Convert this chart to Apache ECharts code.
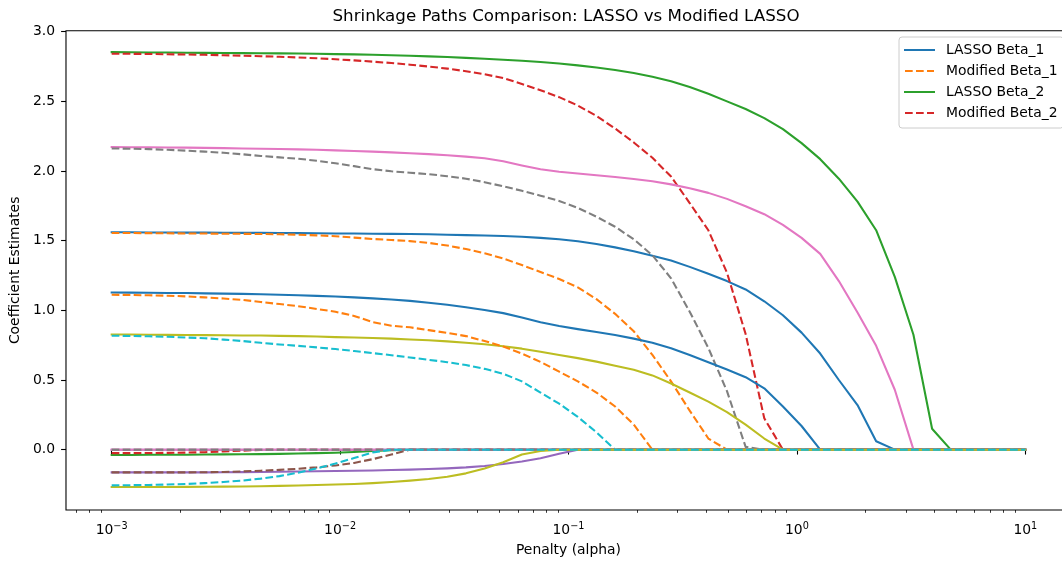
<!DOCTYPE html>
<html><head><meta charset="utf-8">
<script src="https://cdn.jsdelivr.net/npm/echarts@6/dist/echarts.min.js"></script>
<style>html,body{margin:0;padding:0;background:#fff;overflow:hidden;width:1062px;height:562px}#c{width:1071px;height:562px}</style>
</head><body><div id="c"></div>
<script>
// Penalty grid (alpha values)
const alphas = [0.001,0.0012068,0.0014563,0.0017575,0.002121,0.0025595,0.0030888,0.0037276,0.0044984,0.0054287,
  0.0065513,0.007906,0.009541,0.011514,0.013895,0.016768,0.020236,0.024421,0.029471,0.035565,
  0.042919,0.051795,0.062506,0.075431,0.09103,0.10985,0.13257,0.15999,0.19307,0.233,
  0.28118,0.33932,0.40949,0.49417,0.59636,0.71969,0.86851,1.0481,1.2649,1.5264,
  1.8421,2.223,2.6827,3.2375,3.9069,4.7149,5.6899,6.8665,8.2864,10.0];

const xMajorTicks = [0.001,0.01,0.1,1,10];
const xMinorTicks = [0.0007,0.0008,0.0009,
  0.002,0.003,0.004,0.005,0.006,0.007,0.008,0.009,
  0.02,0.03,0.04,0.05,0.06,0.07,0.08,0.09,
  0.2,0.3,0.4,0.5,0.6,0.7,0.8,0.9,
  2,3,4,5,6,7,8,9];
const yTicks = [0,0.5,1,1.5,2,2.5,3];

const lassoB1 = [1.560,1.560,1.559,1.559,1.558,1.558,1.557,1.556,1.556,1.555,
  1.554,1.553,1.552,1.551,1.550,1.549,1.548,1.546,1.543,1.540,
  1.537,1.533,1.528,1.520,1.510,1.496,1.476,1.452,1.424,1.392,
  1.357,1.312,1.262,1.210,1.150,1.065,0.965,0.840,0.690,0.500,
  0.320,0.060,0,0,0,0,0,0,0,0];
const modB1 = [1.555,1.555,1.554,1.553,1.552,1.551,1.550,1.549,1.548,1.546,
  1.543,1.538,1.532,1.522,1.512,1.505,1.497,1.484,1.465,1.440,
  1.410,1.372,1.325,1.275,1.225,1.165,1.080,0.975,0.850,0.680,
  0.490,0.280,0.080,0,0,0,0,0,0,0,
  0,0,0,0,0,0,0,0,0,0];
const lassoB2 = [2.853,2.852,2.851,2.850,2.849,2.848,2.847,2.846,2.845,2.844,
  2.843,2.841,2.839,2.837,2.834,2.831,2.827,2.823,2.818,2.812,
  2.806,2.799,2.791,2.782,2.771,2.758,2.743,2.725,2.703,2.677,
  2.645,2.603,2.555,2.500,2.445,2.380,2.300,2.200,2.085,1.945,
  1.780,1.575,1.240,0.825,0.150,0,0,0,0,0];
const modB2 = [2.842,2.841,2.840,2.838,2.836,2.834,2.831,2.828,2.824,2.820,
  2.815,2.809,2.802,2.794,2.785,2.775,2.763,2.750,2.735,2.716,
  2.694,2.667,2.625,2.580,2.530,2.470,2.395,2.305,2.205,2.095,
  1.960,1.770,1.575,1.270,0.830,0.225,0,0,0,0,
  0,0,0,0,0,0,0,0,0,0];
const lassoB3 = [-0.163,-0.163,-0.163,-0.163,-0.163,-0.163,-0.162,-0.161,-0.160,-0.159,
  -0.157,-0.155,-0.153,-0.151,-0.149,-0.146,-0.143,-0.139,-0.134,-0.127,
  -0.117,-0.103,-0.085,-0.062,-0.030,0,0,0,0,0,
  0,0,0,0,0,0,0,0,0,0,
  0,0,0,0,0,0,0,0,0,0];
const modB3 = [-0.163,-0.163,-0.163,-0.163,-0.163,-0.162,-0.160,-0.156,-0.151,-0.145,
  -0.137,-0.127,-0.113,-0.095,-0.068,-0.035,0,0,0,0,
  0,0,0,0,0,0,0,0,0,0,
  0,0,0,0,0,0,0,0,0,0,
  0,0,0,0,0,0,0,0,0,0];
const lassoB4 = [2.172,2.171,2.170,2.169,2.168,2.166,2.164,2.162,2.160,2.158,
  2.155,2.152,2.148,2.144,2.139,2.134,2.128,2.121,2.113,2.103,
  2.091,2.070,2.040,2.012,1.995,1.982,1.970,1.957,1.943,1.926,
  1.904,1.877,1.843,1.800,1.747,1.690,1.613,1.520,1.405,1.210,
  0.985,0.745,0.430,0,0,0,0,0,0,0];
const modB4 = [2.162,2.160,2.157,2.152,2.146,2.139,2.131,2.120,2.108,2.098,
  2.088,2.074,2.055,2.035,2.013,1.998,1.988,1.977,1.963,1.945,
  1.920,1.890,1.858,1.823,1.785,1.735,1.672,1.600,1.510,1.395,
  1.230,0.990,0.730,0.420,0.020,0,0,0,0,0,
  0,0,0,0,0,0,0,0,0,0];
const lassoB5 = [0.827,0.826,0.825,0.824,0.823,0.822,0.821,0.820,0.819,0.817,
  0.815,0.812,0.808,0.805,0.801,0.797,0.791,0.785,0.777,0.767,
  0.756,0.742,0.725,0.703,0.680,0.657,0.632,0.603,0.573,0.533,
  0.475,0.410,0.345,0.270,0.180,0.080,0,0,0,0,
  0,0,0,0,0,0,0,0,0,0];
const modB5 = [0.818,0.816,0.814,0.810,0.805,0.800,0.790,0.780,0.767,0.755,
  0.745,0.734,0.722,0.708,0.693,0.678,0.662,0.645,0.628,0.607,
  0.580,0.545,0.490,0.410,0.330,0.235,0.125,0,0,0,
  0,0,0,0,0,0,0,0,0,0,
  0,0,0,0,0,0,0,0,0,0];
const lassoB6 = [1.128,1.127,1.126,1.125,1.124,1.122,1.120,1.118,1.115,1.112,
  1.108,1.104,1.099,1.093,1.086,1.078,1.068,1.055,1.040,1.022,
  1.003,0.980,0.948,0.915,0.888,0.865,0.845,0.823,0.797,0.768,
  0.728,0.680,0.628,0.575,0.520,0.440,0.310,0.170,0,0,
  0,0,0,0,0,0,0,0,0,0];
const modB6 = [1.112,1.110,1.108,1.105,1.100,1.093,1.085,1.075,1.060,1.045,
  1.030,1.010,0.990,0.960,0.915,0.890,0.878,0.858,0.838,0.815,
  0.780,0.740,0.690,0.630,0.560,0.490,0.410,0.310,0.180,0,
  0,0,0,0,0,0,0,0,0,0,
  0,0,0,0,0,0,0,0,0,0];
const lassoB7 = [-0.038,-0.038,-0.037,-0.037,-0.036,-0.035,-0.034,-0.033,-0.032,-0.030,
  -0.028,-0.025,-0.022,-0.017,-0.010,-0.004,0,0,0,0,
  0,0,0,0,0,0,0,0,0,0,
  0,0,0,0,0,0,0,0,0,0,
  0,0,0,0,0,0,0,0,0,0];
const modB7 = [-0.025,-0.025,-0.024,-0.023,-0.021,-0.018,-0.013,-0.007,-0.002,0,
  0,0,0,0,0,0,0,0,0,0,
  0,0,0,0,0,0,0,0,0,0,
  0,0,0,0,0,0,0,0,0,0,
  0,0,0,0,0,0,0,0,0,0];
const lassoB8 = [0,0,0,0,0,0,0,0,0,0, 0,0,0,0,0,0,0,0,0,0, 0,0,0,0,0,0,0,0,0,0, 0,0,0,0,0,0,0,0,0,0, 0,0,0,0,0,0,0,0,0,0];
const modB8 = [0,0,0,0,0,0,0,0,0,0, 0,0,0,0,0,0,0,0,0,0, 0,0,0,0,0,0,0,0,0,0, 0,0,0,0,0,0,0,0,0,0, 0,0,0,0,0,0,0,0,0,0];
const lassoB9 = [0,0,0,0,0,0,0,0,0,0, 0,0,0,0,0,0,0,0,0,0, 0,0,0,0,0,0,0,0,0,0, 0,0,0,0,0,0,0,0,0,0, 0,0,0,0,0,0,0,0,0,0];
const modB9 = [0,0,0,0,0,0,0,0,0,0, 0,0,0,0,0,0,0,0,0,0, 0,0,0,0,0,0,0,0,0,0, 0,0,0,0,0,0,0,0,0,0, 0,0,0,0,0,0,0,0,0,0];
const lassoB10 = [-0.268,-0.268,-0.268,-0.268,-0.267,-0.266,-0.265,-0.264,-0.262,-0.260,
  -0.257,-0.254,-0.250,-0.246,-0.240,-0.232,-0.222,-0.210,-0.195,-0.170,
  -0.135,-0.090,-0.035,-0.010,0,0,0,0,0,0,
  0,0,0,0,0,0,0,0,0,0,
  0,0,0,0,0,0,0,0,0,0];
const modB10 = [-0.256,-0.255,-0.253,-0.250,-0.246,-0.240,-0.232,-0.222,-0.208,-0.190,
  -0.165,-0.135,-0.100,-0.060,-0.020,0,0,0,0,0,
  0,0,0,0,0,0,0,0,0,0,
  0,0,0,0,0,0,0,0,0,0,
  0,0,0,0,0,0,0,0,0,0];

const lassoSeries = [lassoB1,lassoB2,lassoB3,lassoB4,lassoB5,lassoB6,lassoB7,lassoB8,lassoB9,lassoB10];
const modSeries = [modB1,modB2,modB3,modB4,modB5,modB6,modB7,modB8,modB9,modB10];
const legendNames = ['LASSO Beta_1','Modified Beta_1','LASSO Beta_2','Modified Beta_2'];

const palette = ['#1f77b4','#ff7f0e','#2ca02c','#d62728','#9467bd','#8c564b','#e377c2','#7f7f7f','#bcbd22','#17becf'];
const FONT = 'DejaVu Sans';

const series = [];
for (let f = 0; f < lassoSeries.length; f++) {
  [[lassoSeries[f], 'LASSO Beta_' + (f + 1), false], [modSeries[f], 'Modified Beta_' + (f + 1), true]].forEach(function (d) {
    const k = series.length;
    const col = palette[k % 10];
    series.push({
      type: 'line', name: d[1], xAxisIndex: 0, yAxisIndex: 0,
      data: alphas.map(function (a, i) { return [a, d[0][i]]; }),
      symbol: 'none', showSymbol: false, smooth: false, clip: true,
      lineStyle: { color: col, width: 2.08, type: d[2] ? [7.7, 3.3] : 'solid', cap: d[2] ? 'butt' : 'square', join: 'round' },
      itemStyle: { color: col },
      emphasis: { disabled: true },
      silent: true
    });
  });
}

function supLabel(v) {
  const e = Math.round(Math.log10(v));
  const s = e < 0 ? '\u2212' + (-e) : String(e);
  return '{b|10}{s|' + s + '}';
}

const chart = echarts.init(document.getElementById('c'), null, { renderer: 'canvas', width: 1071, height: 562 });
chart.setOption({
  animation: false,
  backgroundColor: '#fff',
  title: {
    text: 'Shrinkage Paths Comparison: LASSO vs Modified LASSO',
    left: 566, top: 8, padding: 0, textAlign: 'center',
    textStyle: { fontFamily: FONT, fontSize: 16.7, fontWeight: 'normal', color: '#000' }
  },
  legend: {
    data: legendNames, orient: 'vertical', left: 899, top: 37,
    padding: [6, 6, 8, 5], itemWidth: 29, itemHeight: 14, itemGap: 7,
    backgroundColor: 'rgba(255,255,255,0.8)', borderColor: '#cccccc', borderWidth: 1, borderRadius: 3,
    selectedMode: false,
    itemStyle: { color: 'rgba(0,0,0,0)', borderWidth: 0, opacity: 0 },
    textStyle: { fontFamily: FONT, fontSize: 13.9, color: '#000', padding: [0, 0, 0, 7], lineHeight: 14 }
  },
  grid: { left: 62, right: 0, top: 30.7, bottom: 51.6, show: true, borderColor: '#000', borderWidth: 1.1, backgroundColor: 'transparent', containLabel: false },
  xAxis: [{
    type: 'log', logBase: 10, min: 0.00063096, max: 15.8489, position: 'bottom', gridIndex: 0,
    axisLine: { show: false },
    axisTick: { show: true, customValues: xMajorTicks, length: 4.9, lineStyle: { color: '#000', width: 1.1 } },
    axisLabel: { show: true, customValues: xMajorTicks, margin: 11, formatter: supLabel,
      rich: {
        b: { fontFamily: FONT, fontSize: 13.9, color: '#000', verticalAlign: 'bottom', padding: [5, 0, 0, 0], lineHeight: 16 },
        s: { fontFamily: FONT, fontSize: 9.7, color: '#000', verticalAlign: 'top', lineHeight: 11 }
      } },
    splitLine: { show: false }, minorTick: { show: false },
    name: 'Penalty (alpha)', nameLocation: 'middle', nameGap: 33,
    nameTextStyle: { fontFamily: FONT, fontSize: 13.9, color: '#000' }
  }, {
    type: 'log', logBase: 10, min: 0.00063096, max: 15.8489, position: 'bottom', gridIndex: 0,
    axisLine: { show: false },
    axisTick: { show: true, customValues: xMinorTicks, length: 2.8, lineStyle: { color: '#000', width: 0.8 } },
    axisLabel: { show: false }, splitLine: { show: false }
  }],
  yAxis: [{
    type: 'value', min: -0.433, max: 3.007, gridIndex: 0,
    axisLine: { show: false },
    axisTick: { show: true, customValues: yTicks, length: 4.9, lineStyle: { color: '#000', width: 1.1 } },
    axisLabel: { show: true, customValues: yTicks, margin: 11, formatter: function (v) { return v.toFixed(1); },
      fontFamily: FONT, fontSize: 13.9, color: '#000' },
    splitLine: { show: false },
    name: 'Coefficient Estimates', nameLocation: 'middle', nameGap: 36, nameRotate: 90,
    nameTextStyle: { fontFamily: FONT, fontSize: 13.9, color: '#000' }
  }],
  series: series
});
</script></body></html>
